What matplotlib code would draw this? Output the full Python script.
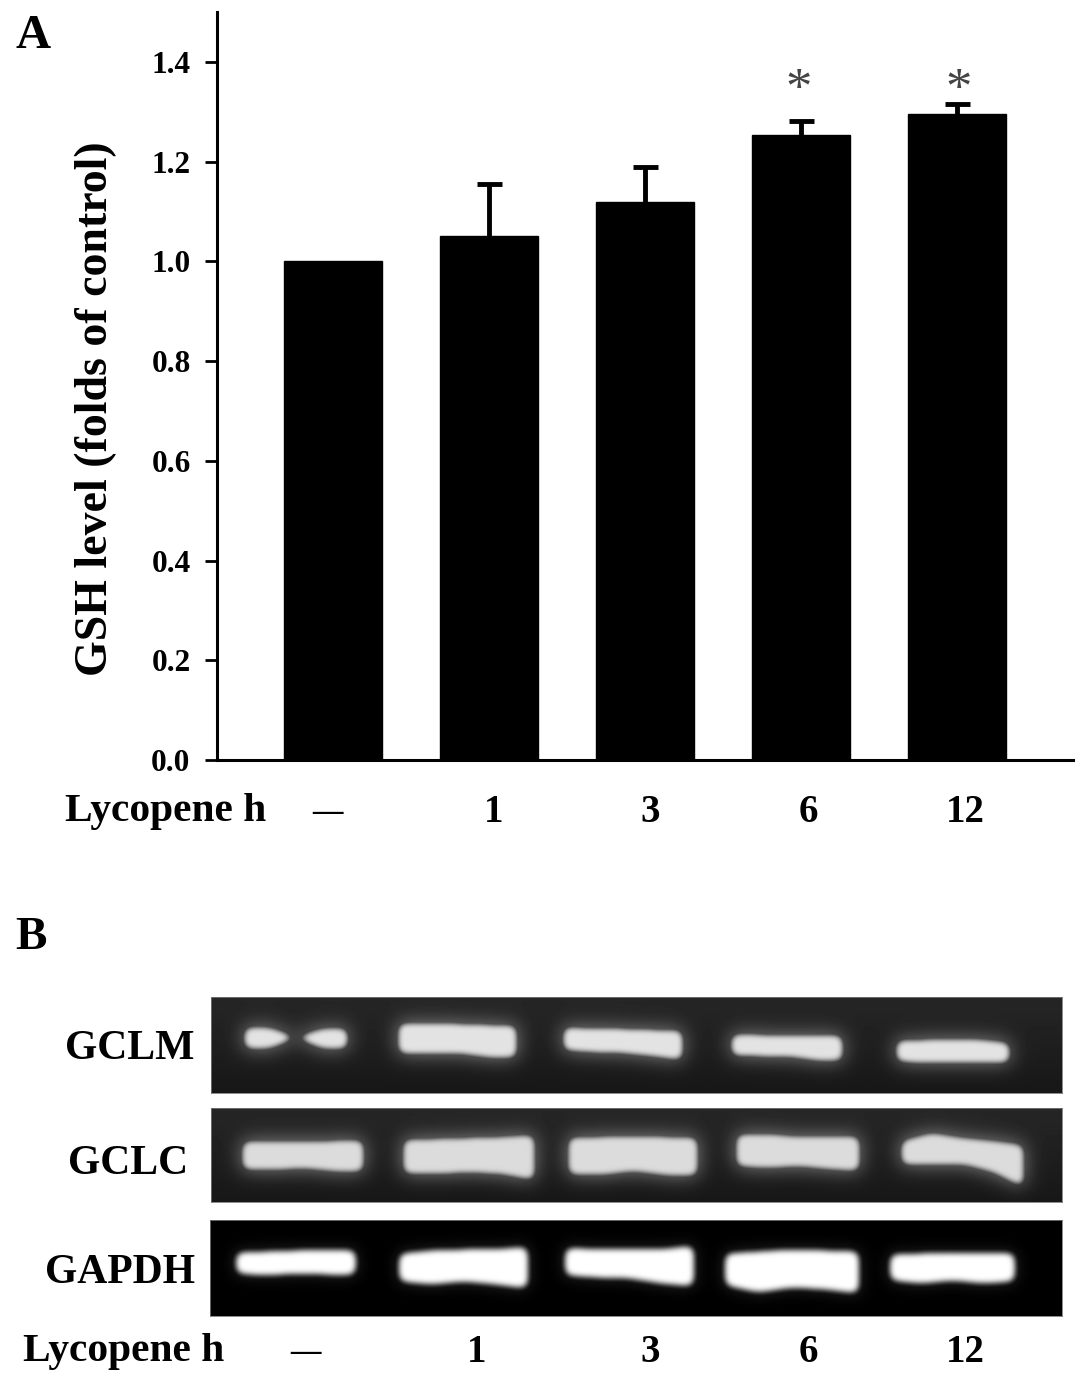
import matplotlib
matplotlib.use('Agg')
import matplotlib.pyplot as plt
import numpy as np

W, H = 1087, 1380

# panel A
conditions = ['—', '1', '3', '6', '12']
gsh_mean = [1.0, 1.051, 1.119, 1.254, 1.296]
gsh_err = [0, 0.104, 0.071, 0.028, 0.020]
y_ticks = [0.0, 0.2, 0.4, 0.6, 0.8, 1.0, 1.2, 1.4]

# panel B, band outlines read from the gel: left, right, 5 tops, 5 bottoms
gclm_bands = [
    (244, 347, [1027, 1027, 1036, 1028, 1028], [1048, 1048, 1038, 1048, 1049]),
    (398, 516, [1023, 1022, 1023, 1024, 1025], [1053, 1053, 1053, 1057, 1057]),
    (563, 682, [1026, 1028, 1028, 1029, 1030], [1050, 1052, 1053, 1056, 1060]),
    (731, 842, [1034, 1034, 1035, 1035, 1035], [1055, 1056, 1056, 1060, 1061]),
    (896, 1009, [1040, 1039, 1039, 1039, 1042], [1061, 1063, 1062, 1062, 1063]),
]
gclc_bands = [
    (242, 363, [1141, 1141, 1141, 1140, 1140], [1169, 1170, 1168, 1171, 1171]),
    (403, 534, [1139, 1138, 1137, 1136, 1134], [1173, 1174, 1172, 1174, 1180]),
    (568, 697, [1137, 1136, 1136, 1136, 1137], [1174, 1175, 1171, 1175, 1175]),
    (736, 859, [1134, 1133, 1136, 1135, 1136], [1166, 1168, 1166, 1169, 1171]),
    (901, 1023, [1140, 1132, 1137, 1140, 1144], [1165, 1164, 1164, 1172, 1187]),
]
gapdh_bands = [
    (236, 355, [1252, 1251, 1250, 1250, 1250], [1273, 1275, 1273, 1274, 1274]),
    (399, 527, [1253, 1250, 1249, 1249, 1246], [1281, 1284, 1281, 1284, 1288]),
    (565, 693, [1247, 1249, 1249, 1249, 1245], [1275, 1277, 1278, 1283, 1286]),
    (725, 858, [1253, 1251, 1249, 1250, 1251], [1285, 1292, 1287, 1289, 1293]),
    (890, 1014, [1254, 1253, 1252, 1253, 1252], [1280, 1283, 1280, 1283, 1281]),
]
gel_names = ['GCLM', 'GCLC', 'GAPDH']
gel_boxes = [(211, 1062, 997, 1093), (211, 1062, 1108, 1202), (210, 1062, 1220, 1316)]
gel_bg = [0.12, 0.12, 0.0]
gel_peak = [0.89, 0.86, 1.0]
gel_bands = [gclm_bands, gclc_bands, gapdh_bands]

plt.rcParams['font.family'] = ['Liberation Serif', 'DejaVu Serif']
plt.rcParams['font.weight'] = 'bold'

fig = plt.figure(figsize=(W / 100, H / 100), dpi=100)


def px_axes(x0, x1, ytop, ybot):
    return fig.add_axes([x0 / W, 1 - ybot / H, (x1 - x0) / W, (ybot - ytop) / H])


def px_text(x, y, s, size, ha='center', va='center', **kw):
    fig.text(x / W, 1 - y / H, s, fontsize=size, ha=ha, va=va, **kw)


def blur(a, sigma):
    r = int(sigma * 3)
    k = np.exp(-0.5 * (np.arange(-r, r + 1) / sigma) ** 2)
    k /= k.sum()
    a = np.pad(a, r, mode='edge')
    a = np.apply_along_axis(lambda v: np.convolve(v, k, mode='same'), 0, a)
    a = np.apply_along_axis(lambda v: np.convolve(v, k, mode='same'), 1, a)
    return a[r:-r, r:-r]


def gel_image(box, bg, peak, bands):
    x0, x1, y0, y1 = box
    xx = np.arange(x0, x1)
    yy = np.arange(y0, y1)
    mask = np.zeros((len(yy), len(xx)))
    for left, right, tops, bots in bands:
        st = np.linspace(left, right, 5)
        t = np.interp(xx, st, tops)
        b = np.interp(xx, st, bots)
        for i, x in enumerate(xx):
            if left <= x <= right:
                mask[(yy >= t[i]) & (yy <= b[i]), i] = 1
    # round the corners, then soften the edge
    soft = np.clip((blur(mask, 5.0) - 0.3) / 0.4, 0, 1)
    core = blur(soft * soft * (3 - 2 * soft), 2.6) * peak
    if bg > 0:
        back = np.linspace(bg + 0.03, bg - 0.03, len(yy))[:, None] + 0.42 * blur(mask, 10.0)
    else:
        back = 0.2 * blur(mask, 8.0)
    return np.clip(np.maximum(back, core), 0, 1)


# panel A
ax = px_axes(217, 1073, 12, 760)
x = np.arange(len(conditions))
ax.bar(x, gsh_mean, width=0.63, color='black', edgecolor='black', linewidth=1)
ax.errorbar(x[1:], gsh_mean[1:], yerr=[np.full(4, 0.03), gsh_err[1:]], fmt='none', ecolor='black',
            elinewidth=3.5, capsize=9, capthick=3.5)
ax.set_xlim((217 - 333) / 156, (1073 - 333) / 156)
ax.set_ylim(0, 1.5)
ax.set_yticks(y_ticks)
ax.set_yticklabels(['%.1f' % v for v in y_ticks], fontsize=22.5)
ax.set_xticks([])
ax.tick_params(axis='y', length=9, width=2, pad=10)
for s in ['top', 'right']:
    ax.spines[s].set_visible(False)
for s in ['left', 'bottom']:
    ax.spines[s].set_linewidth(2.2)

px_text(799, 104, '*', 38, va='baseline', color='#444444', fontweight='normal')
px_text(959, 104, '*', 38, va='baseline', color='#444444', fontweight='normal')

fig.text(96 / W, 1 - 409 / H, 'GSH level (folds of control)', fontsize=33, rotation=90,
         ha='center', va='center')
px_text(15, 36, 'A', 35, ha='left')
px_text(15, 938, 'B', 34, ha='left')

px_text(166, 812, 'Lycopene h', 29.8)
for xp, lab in zip([327, 494, 650, 808, 965], conditions):
    px_text(xp, 812, lab, 22 if lab == '—' else 28)

# panel B
for name, box, bg, peak, bands, ty, tx in zip(gel_names, gel_boxes, gel_bg, gel_peak, gel_bands,
                                              [1049, 1164, 1273], [130, 128, 120]):
    a = px_axes(box[0], box[1], box[2], box[3])
    a.imshow(gel_image(box, bg, peak, bands), cmap='gray', vmin=0, vmax=1, aspect='auto',
             interpolation='bilinear')
    a.set_xticks([])
    a.set_yticks([])
    for s in a.spines.values():
        s.set_color('#777777')
        s.set_linewidth(0.6)
    px_text(tx, ty, name, 30)

px_text(124, 1352, 'Lycopene h', 29.8)
for xp, lab in zip([305, 477, 650, 808, 965], conditions):
    px_text(xp, 1352, lab, 22 if lab == '—' else 28)

fig.savefig('out.png', dpi=100)
